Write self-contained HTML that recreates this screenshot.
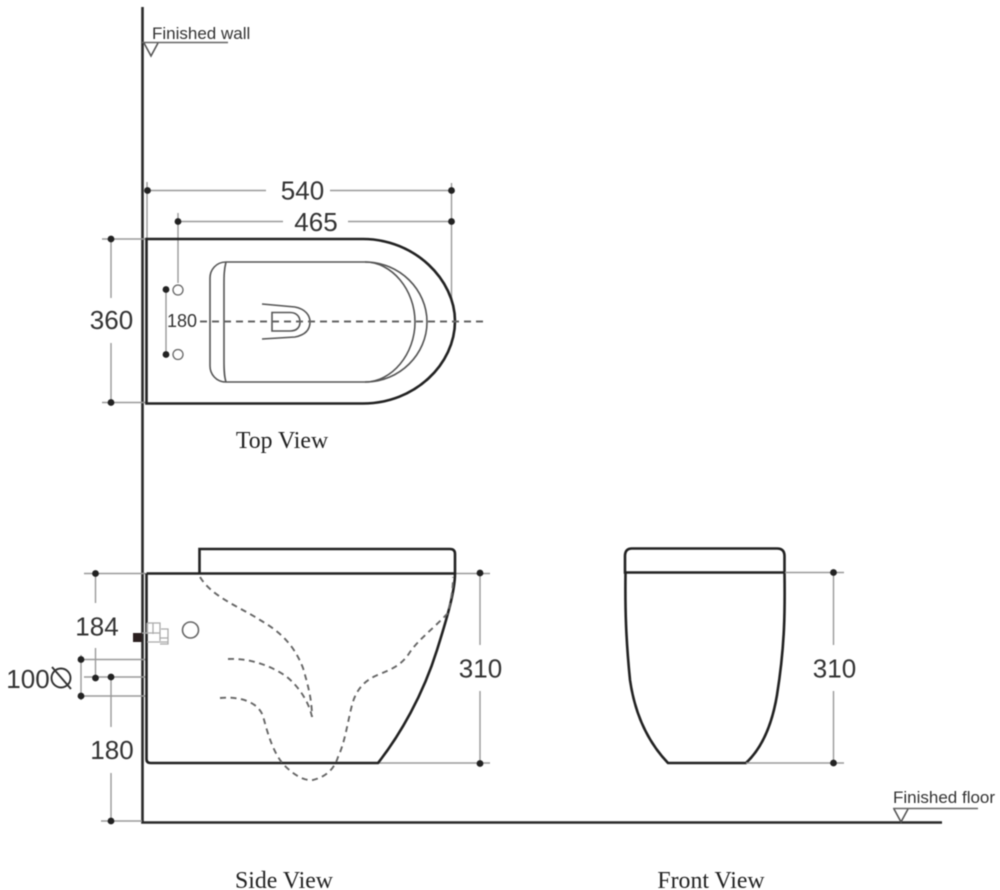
<!DOCTYPE html>
<html><head><meta charset="utf-8"><style>
html,body{margin:0;padding:0;background:#fff;width:1000px;height:890px;overflow:hidden}
svg{display:block;filter:blur(.45px)}
text{font-family:"Liberation Sans",sans-serif;fill:#333}
.d{font-size:26px;text-anchor:middle}
.v{font-family:"Liberation Serif",serif;font-size:23.8px;text-anchor:middle;fill:#222}
.m{stroke:#222;stroke-width:2.6;fill:none}
.t{stroke:#555;stroke-width:1.6;fill:none}
.g{stroke:#999;stroke-width:1.4;fill:none}
.a{stroke:#666;stroke-width:1.9;fill:none;stroke-dasharray:7 5}
circle.p{fill:#222;stroke:none}
</style></head><body>
<svg width="1000" height="890" viewBox="0 0 1000 890">
<!-- wall and floor -->
<path d="M142.500 7V822.500H942" stroke="#2a2a2a" stroke-width="2.600" fill="none"/>
<path d="M142 42.500H228" stroke="#666" stroke-width="1.500"/>
<path d="M144 43L151 56L158 43" class="t"/>
<text x="152" y="39" font-size="17">Finished wall</text>
<path d="M893 808.500H978" stroke="#666" stroke-width="1.500"/>
<path d="M894 809L901 822L908 809" class="t"/>
<text x="893" y="803" font-size="17">Finished floor</text>

<!-- top view dimensions -->
<g class="g">
<path d="M147 182V239M147.500 190.500H266M330 190.500H451.500M451.500 183V300"/>
<path d="M178 213V283M178 221.500H283M348 221.500H451.500"/>
<path d="M102 239H146M102 402.500H146M111 239V298M111 343V402.500"/>
<path d="M166 289.500V354"/>
</g>
<g>
<circle class="p" cx="147.500" cy="190.500" r="3.400"/><circle class="p" cx="451.500" cy="190.500" r="3.400"/>
<circle class="p" cx="178" cy="221.500" r="3.400"/><circle class="p" cx="451.500" cy="221.500" r="3.400"/>
<circle class="p" cx="111" cy="239" r="3.400"/><circle class="p" cx="111" cy="402.500" r="3.400"/>
<circle class="p" cx="166" cy="289.500" r="3.400"/><circle class="p" cx="166" cy="354.500" r="3.400"/>
</g>
<text class="d" x="302.500" y="199.500">540</text>
<text class="d" x="316" y="231">465</text>
<text class="d" x="111.500" y="329">360</text>
<text x="182" y="327" font-size="18" text-anchor="middle">180</text>

<!-- top view body -->
<path class="m" d="M146.500 239H363C415 239 455 280 455 321C455 364 415 403.500 363 403.500H146.500Z"/>
<path class="t" d="M226 262H365C400 262 427 290 427 322C427 354 400 382 365 382H226C216 382 210 374 210 366V278C210 270 216 262 226 262Z"/>
<path class="t" d="M226 262C224 270 224 276 224 285V360C224 368 224 376 226 382"/>
<path class="t" d="M365 262C392 262 415 290 415 322C415 354 392 382 365 382"/>
<circle cx="178" cy="290" r="5" fill="#fff" stroke="#666" stroke-width="1.300"/>
<circle cx="178" cy="354.500" r="5" fill="#fff" stroke="#666" stroke-width="1.300"/>
<path class="t" d="M262 304L295 307C305 309 310 315 310 322C310 330 305 335 295 337L262 339"/>
<path class="t" d="M272 312.500H290C297 312.500 300 317 300 322C300 327 297 331 290 331H272Z"/>
<path class="a" d="M200 321.500H488"/>

<text class="v" x="282" y="448">Top View</text>

<!-- side view dimensions -->
<g class="g">
<path d="M84 573.500H146M95.500 573.500V603M95.500 648V678"/>
<path d="M84 677H146M81 659.500H146M81 696H146M81 655V700"/>
<path d="M111 677V727M111 773V821M101 821H142"/>
<path d="M455 573.500H490M378 763H490M480 573.500V645M480 691V763"/>
</g>
<circle class="p" cx="95.500" cy="573.500" r="3.400"/>
<circle class="p" cx="81" cy="659.500" r="3.400"/><circle class="p" cx="81" cy="696" r="3.400"/>
<circle class="p" cx="95.500" cy="678" r="3.400"/><circle class="p" cx="111" cy="677" r="3.400"/>
<circle class="p" cx="111" cy="821" r="3.400"/>
<circle class="p" cx="480" cy="573" r="3.400"/><circle class="p" cx="480" cy="763.500" r="3.400"/>
<text class="d" x="97" y="635.500">184</text>
<text class="d" x="28" y="688">100</text>
<circle cx="61" cy="678" r="9.500" fill="none" stroke="#333" stroke-width="1.900"/>
<path d="M52 667L71 689" stroke="#333" stroke-width="1.900"/>
<text class="d" x="112" y="759">180</text>
<text class="d" x="480.500" y="677.500">310</text>

<!-- side view body -->
<path class="m" d="M146.500 573.500H455M146.500 573.500V759Q146.500 763 150.500 763H378C400 735 423 695 437 650C448 615 455 590 455 573.500V554Q455 549 450 549H199.500V573.500"/>
<circle cx="190.500" cy="630" r="8" fill="none" stroke="#666" stroke-width="1.600"/>
<rect x="133" y="633" width="9" height="9" fill="#2b2020"/>
<path d="M142 633H160M147 623H160V641M153 623V634M147 623V634M147 642H168M160 638H168V644H160M161 629H168V644" stroke="#aaa" stroke-width="1.300" fill="none"/>
<path class="a" d="M200 577C212 597 240 607 260 620C277 630 293 642 303 668C308 685 312 700 312 717" style="stroke-dasharray:6 4.500"/>
<path class="a" d="M228 659C250 658 272 666 287 677C299 687 309 702 312 717" style="stroke-dasharray:6 4.500"/>
<path class="a" d="M220 698C240 696 258 702 263 716C268 735 274 755 285 766C295 776 305 781 313 780C325 777 334 770 338 757C345 742 347 725 352 705C356 690 364 680 380 674C392 669 402 665 410 652C420 638 432 630 448 613C451 600 453 590 453 577" style="stroke-dasharray:6 4.500"/>

<!-- front view -->
<path class="m" d="M625 572.500H785M625 572.500V556Q625 548.500 632 548.500H777Q784.500 548.500 784.500 556V572.500C785 610 785 645 777 695C772 725 762 748 746 763H668C648 742 635 715 630 680C626 640 625 610 625.500 572.500ZM668 763H746"/>
<g class="g">
<path d="M785 572.500H844M746 763H844M833.500 572.500V645M833.500 691V763"/>
</g>
<circle class="p" cx="833.500" cy="572.500" r="3.400"/><circle class="p" cx="833.500" cy="763" r="3.400"/>
<text class="d" x="834.500" y="677.500">310</text>

<text class="v" x="284" y="888">Side View</text>
<text class="v" x="711" y="888">Front View</text>
</svg>
</body></html>
